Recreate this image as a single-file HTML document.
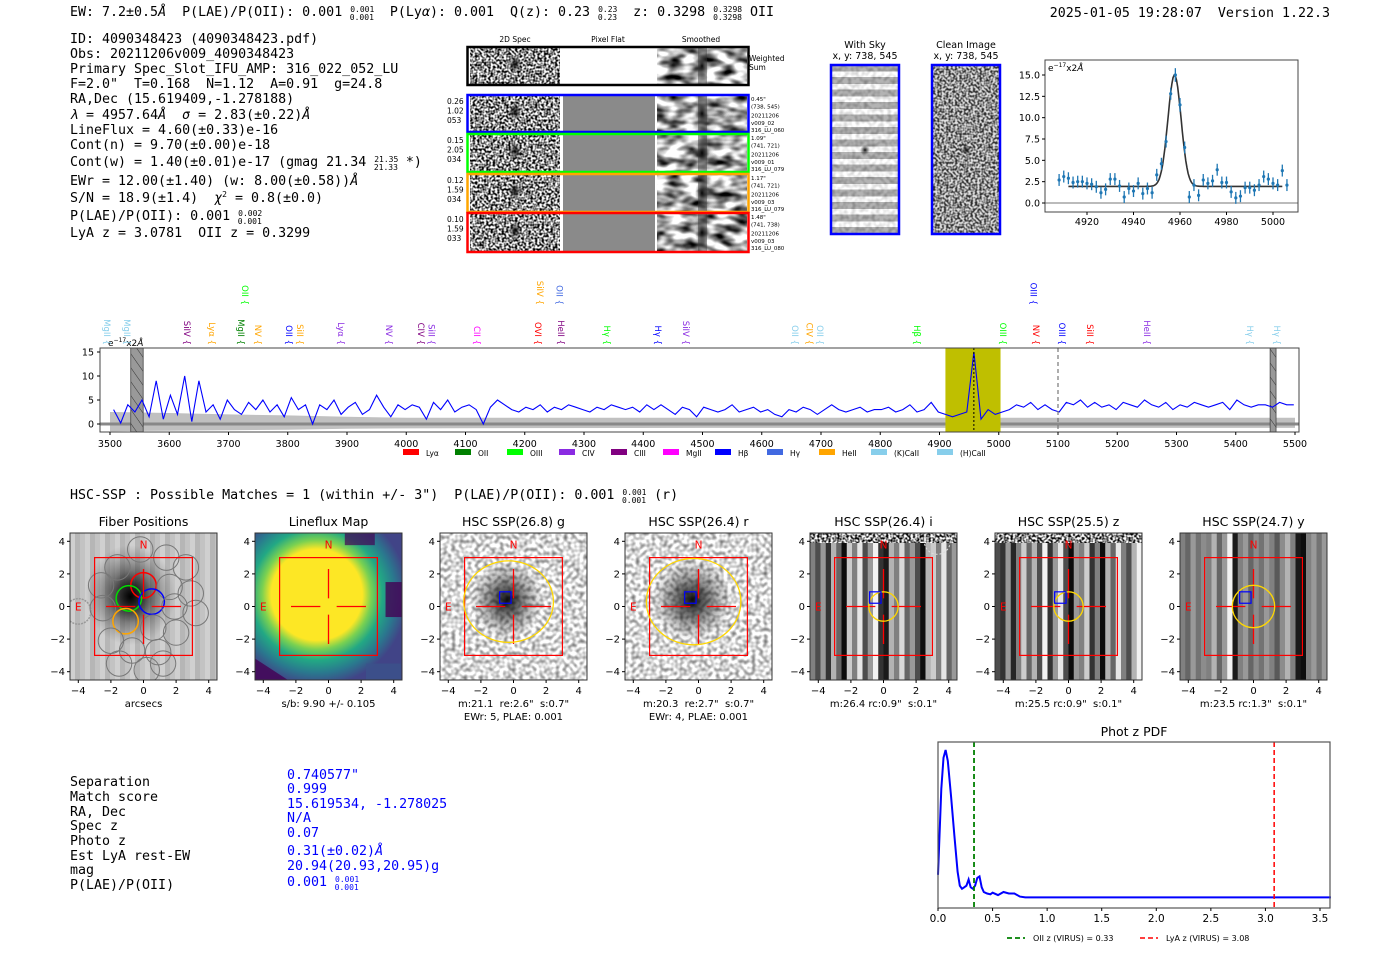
<!DOCTYPE html>
<html><head><meta charset="utf-8">
<style>
html,body{margin:0;padding:0;background:#fff;}
svg{display:block;}
text{white-space:pre;}
.mono{font-family:"DejaVu Sans Mono","Liberation Mono",monospace;}
.sans{font-family:"DejaVu Sans","Liberation Sans",sans-serif;}
</style></head>
<body>
<svg id="fig" width="1400" height="953" viewBox="0 0 1400 953" xmlns="http://www.w3.org/2000/svg" xml:space="preserve">
<defs>
 <filter id="noiseFine" x="0" y="0" width="100%" height="100%" color-interpolation-filters="sRGB">
  <feTurbulence type="fractalNoise" baseFrequency="0.45" numOctaves="1" seed="3"/>
  <feColorMatrix type="matrix" values="3 0 0 0 -0.95  3 0 0 0 -0.95  3 0 0 0 -0.95  0 0 0 0 1"/>
 </filter>
 <filter id="noiseSmooth" x="0" y="0" width="100%" height="100%" color-interpolation-filters="sRGB">
  <feTurbulence type="fractalNoise" baseFrequency="0.06 0.12" numOctaves="2" seed="7"/>
  <feColorMatrix type="matrix" values="2.2 0 0 0 -0.45  2.2 0 0 0 -0.45  2.2 0 0 0 -0.45  0 0 0 0 1"/>
 </filter>
 <filter id="noiseCut" x="0" y="0" width="100%" height="100%" color-interpolation-filters="sRGB">
  <feTurbulence type="fractalNoise" baseFrequency="0.25" numOctaves="1" seed="11"/>
  <feColorMatrix type="matrix" values="1.2 0 0 0 0.25  1.2 0 0 0 0.25  1.2 0 0 0 0.25  0 0 0 0 1"/>
 </filter>
 <radialGradient id="blob" cx="50%" cy="50%" r="50%">
  <stop offset="0" stop-color="#000" stop-opacity="0.95"/>
  <stop offset="0.5" stop-color="#222" stop-opacity="0.5"/>
  <stop offset="1" stop-color="#444" stop-opacity="0"/>
 </radialGradient>
 <radialGradient id="vir" cx="42%" cy="42%" r="62%">
  <stop offset="0" stop-color="#fde725"/>
  <stop offset="0.5" stop-color="#fde725"/>
  <stop offset="0.6" stop-color="#7ad151"/>
  <stop offset="0.72" stop-color="#22a884"/>
  <stop offset="0.86" stop-color="#2a788e"/>
  <stop offset="1" stop-color="#414487"/>
 </radialGradient>
 <pattern id="hatch" width="8" height="8" patternUnits="userSpaceOnUse" patternTransform="rotate(-35)">
  <rect width="8" height="8" fill="#999"/><line x1="0" y1="0" x2="0" y2="8" stroke="#333" stroke-width="1"/>
 </pattern>
 <pattern id="skystripes" width="12" height="12.5" patternUnits="userSpaceOnUse">
  <rect width="12" height="12.5" fill="#fff"/><rect y="2" width="12" height="7" fill="#8a8a8a"/>
 </pattern>
</defs>

<text class="mono" x="70" y="16" font-size="13.3">EW: 7.2±0.5<tspan font-style="italic">Å</tspan>  P(LAE)/P(OII): 0.001 <tspan font-size="8" dy="-4">0.001</tspan><tspan font-size="8" dx="-24.5" dy="8">0.001</tspan><tspan dy="-4">  P(Ly</tspan><tspan font-style="italic">α</tspan>): 0.001  Q(z): 0.23 <tspan font-size="8" dy="-4">0.23</tspan><tspan font-size="8" dx="-19.5" dy="8">0.23</tspan><tspan dy="-4">  z: 0.3298 </tspan><tspan font-size="8" dy="-4">0.3298</tspan><tspan font-size="8" dx="-29" dy="8">0.3298</tspan><tspan dy="-4"> OII</tspan></text>
<text class="mono" x="1330" y="17" font-size="13.3" text-anchor="end">2025-01-05 19:28:07  Version 1.22.3</text>

<g class="mono" font-size="13.3">
<text x="70" y="43">ID: 4090348423 (4090348423.pdf)</text>
<text x="70" y="58">Obs: 20211206v009_4090348423</text>
<text x="70" y="73">Primary Spec_Slot_IFU_AMP: 316_022_052_LU</text>
<text x="70" y="88">F=2.0"  T=0.168  N=1.12  A=0.91  g=24.8</text>
<text x="70" y="103">RA,Dec (15.619409,-1.278188)</text>
<text x="70" y="119"><tspan font-style="italic">λ</tspan> = 4957.64<tspan font-style="italic">Å</tspan>  <tspan font-style="italic">σ</tspan> = 2.83(±0.22)<tspan font-style="italic">Å</tspan></text>
<text x="70" y="134">LineFlux = 4.60(±0.33)e-16</text>
<text x="70" y="149">Cont(n) = 9.70(±0.00)e-18</text>
<text x="70" y="166">Cont(w) = 1.40(±0.01)e-17 (gmag 21.34 <tspan font-size="8" dy="-4">21.35</tspan><tspan font-size="8" dx="-24.5" dy="8">21.33</tspan><tspan dy="-4"> *)</tspan></text>
<text x="70" y="185">EWr = 12.00(±1.40) (w: 8.00(±0.58))<tspan font-style="italic">Å</tspan></text>
<text x="70" y="202">S/N = 18.9(±1.4)  <tspan font-style="italic">χ</tspan><tspan font-size="8" dy="-5">2</tspan><tspan dy="5"> = 0.8(±0.0)</tspan></text>
<text x="70" y="220">P(LAE)/P(OII): 0.001 <tspan font-size="8" dy="-4">0.002</tspan><tspan font-size="8" dx="-24.5" dy="8">0.001</tspan></text>
<text x="70" y="237">LyA z = 3.0781  OII z = 0.3299</text>
</g>

<g id="spec2d"></g>
<g id="cutouts-top"></g>
<g id="linefit"></g>
<g id="spectrum"></g>

<text class="mono" x="70" y="499" font-size="13.3">HSC-SSP : Possible Matches = 1 (within +/- 3")  P(LAE)/P(OII): 0.001 <tspan font-size="8" dy="-4">0.001</tspan><tspan font-size="8" dx="-24.5" dy="8">0.001</tspan><tspan dy="-4"> (r)</tspan></text>
<g id="panels"></g>

<g class="mono" font-size="13.3">
<text x="70" y="786">Separation</text><text x="70" y="801">Match score</text><text x="70" y="816">RA, Dec</text>
<text x="70" y="830">Spec z</text><text x="70" y="845">Photo z</text><text x="70" y="860">Est LyA rest-EW</text>
<text x="70" y="874">mag</text><text x="70" y="889">P(LAE)/P(OII)</text>
</g>
<g class="mono" font-size="13.3" fill="#0000ff">
<text x="287" y="779">0.740577"</text><text x="287" y="793">0.999</text><text x="287" y="808">15.619534, -1.278025</text>
<text x="287" y="822">N/A</text><text x="287" y="837">0.07</text><text x="287" y="855">0.31(±0.02)<tspan font-style="italic">Å</tspan></text>
<text x="287" y="870">20.94(20.93,20.95)g</text>
<text x="287" y="886">0.001 <tspan font-size="8" dy="-4">0.001</tspan><tspan font-size="8" dx="-24.5" dy="8">0.001</tspan></text>
</g>
<g id="photz"></g>
</svg>

<script>
// ---------- DATA ----------
const specStart = 3506;
const specStep = 12;
const specFlux = [
 3,0.2,4,2.5,5,1.5,9,1,6,2,10,0.5,9,2.5,4,1,5,3,
 2,4.5,3,5,2.5,4,1.5,5.5,3,4,0,4,3,5,2,3.5,4.5,2,
 3,6,3.5,1.5,4,3,4,3.5,1,4.5,3,5,2.5,3.5,4,3,0,3.5,
 5,4,3,2.5,3.5,3,4,2.5,3.5,3,4,3.5,3,2.5,3.5,3,4,3.5,
 3,3.5,2.5,4,3,4,3,2,3.5,3,1.5,3.5,3,2.5,3,4,2.5,3,
 3.5,2.5,3,2,1.5,3,2.5,3.5,3,2,3,4,3,2.5,3,3.5,2.5,3,
 3,3.5,2.5,3,4,2.5,3,4.5,2.5,2,1.5,2,2.5,15,1,3,2,2.5,
 3,4,3.5,4.5,3,4,3,2.5,4.5,4,5,3.5,4.5,3.5,4,3,4.5,4,
 3.5,5,4,3.5,4.5,3,4,3.5,4.5,4,3.5,4,4.5,3,5,4,3.5,4,
 4,3.5,4.5,4,4
];
const errWave = [3500,3600,3700,3800,3900,4000,4500,5000,5500];
const errUp = [2.5,2.3,2.0,1.8,1.5,1.3,1.3,1.3,1.3];
const errLo = [-1.5,-1.4,-1.3,-1.2,-1.0,-0.9,-0.8,-0.8,-0.8];
const specTicks = [3500,3600,3700,3800,3900,4000,4100,4200,4300,4400,4500,4600,4700,4800,4900,5000,5100,5200,5300,5400,5500];
const specYTicks = [0,5,10,15];
const lineNames = ["MgII","MgII","SiIV","Lyα","MgII","OII","NV","OII","SiII","Lyα","NV","CIV","SiII","CII","OVI","SiIV","OII","HeII","Hγ","Hγ","SiIV","OII","CIV","OII","Hβ","OIII","NV","OIII","OIII","SiII","HeII","Hγ","Hγ"];
const lineWaves = [3495,3529,3630,3672,3721,3728,3750,3802,3821,3890,3971,4025,4043,4119,4222,4226,4259,4261,4339,4425,4472,4656,4681,4698,4862,5007,5063,5059,5107,5154,5250,5424,5470];
const lineColors = ["#87ceeb","#87ceeb","#800080","#ffa500","#008000","#00ff00","#ffa500","#0000ff","#ffa500","#8a2be2","#8a2be2","#800080","#8a2be2","#ff00ff","#ff0000","#ffa500","#4169e1","#800080","#00ff00","#0000ff","#8a2be2","#87ceeb","#ffa500","#87ceeb","#00ff00","#00ff00","#ff0000","#0000ff","#0000ff","#ff0000","#8a2be2","#87ceeb","#87ceeb"];
const lineTier = [0,0,0,0,0,1,0,0,0,0,0,0,0,0,0,1,1,0,0,0,0,0,0,0,0,0,0,1,0,0,0,0,0];
const legendNames = ["Lyα","OII","OIII","CIV","CIII","MgII","Hβ","Hγ","HeII","(K)CaII","(H)CaII"];
const legendColors = ["#ff0000","#008000","#00ff00","#8a2be2","#800080","#ff00ff","#0000ff","#4169e1","#ffa500","#87ceeb","#87ceeb"];
const fitBand = [4910,5003];
const peakWave = 4958;
const refWave = 5100;
const maskBands = [[3535,3556],[5458,5468]];

const fitWaves = [4908,4910,4912,4914,4916,4918,4920,4922,4924,4926,4928,4930,4932,4934,4936,4938,4940,4942,4944,4946,4948,4950,4952,4954,4956,4958,4960,4962,4964,4966,4968,4970,4972,4974,4976,4978,4980,4982,4984,4986,4988,4990,4992,4994,4996,4998,5000,5002,5004,5006];
const fitFlux = [2.7,3.1,2.9,2.4,2.5,2.5,2.3,2.2,1.9,1.2,1.6,2.8,2.8,2.0,0.7,1.7,1.4,2.3,1.1,1.7,1.2,3.3,4.6,7.2,12.8,15.0,11.5,6.5,0.7,2.1,0.9,2.7,2.3,2.6,3.9,2.4,2.4,1.3,0.6,0.8,1.8,1.8,1.5,2.1,3.1,2.8,2.3,2.1,3.8,2.1];
const fitErr = [0.7,0.7,0.7,0.7,0.7,0.7,0.7,0.7,0.7,0.7,0.7,0.7,0.7,0.7,0.7,0.7,0.7,0.7,0.7,0.7,0.7,0.7,0.7,0.7,0.7,0.8,0.8,0.7,0.7,0.7,0.7,0.7,0.7,0.7,0.7,0.7,0.7,0.7,0.7,0.7,0.7,0.7,0.7,0.7,0.7,0.7,0.7,0.7,0.7,0.7];
const fitParams = [1.95, 13.05, 4957.64, 2.83];
const fitRange = [4912, 5004];
const fitXTicks = [4920,4940,4960,4980,5000];
const fitYTicks = [0,2.5,5,7.5,10,12.5,15];

const pzZ = [0,0.03,0.05,0.07,0.09,0.12,0.15,0.18,0.2,0.22,0.24,0.26,0.28,0.3,0.32,0.34,0.36,0.38,0.4,0.42,0.45,0.48,0.5,0.55,0.6,0.65,0.7,0.75,0.8,1.0,1.5,2.0,2.5,3.0,3.5,3.6];
const pzP = [0.2,0.75,0.95,1.0,0.93,0.7,0.45,0.22,0.13,0.11,0.12,0.13,0.17,0.12,0.11,0.13,0.18,0.19,0.12,0.09,0.08,0.075,0.085,0.07,0.09,0.08,0.08,0.06,0.055,0.055,0.055,0.055,0.055,0.055,0.055,0.055];
const pzTicks = [0,0.5,1,1.5,2,2.5,3,3.5];
const pzOII = 0.33;
const pzLyA = 3.08;

const panelTitles = ["Fiber Positions","Lineflux Map","HSC SSP(26.8) g","HSC SSP(26.4) r","HSC SSP(26.4) i","HSC SSP(25.5) z","HSC SSP(24.7) y"];
const panelLab1 = ["arcsecs","s/b: 9.90 +/- 0.105","m:21.1  re:2.6\"  s:0.7\"","m:20.3  re:2.7\"  s:0.7\"","m:26.4 rc:0.9\"  s:0.1\"","m:25.5 rc:0.9\"  s:0.1\"","m:23.5 rc:1.3\"  s:0.1\""];
const panelLab2 = ["","","EWr: 5, PLAE: 0.001","EWr: 4, PLAE: 0.001","","",""];
const ellX = [null,null,-0.3,-0.3,0,0,0];
const ellY = [null,null,0.3,0.3,0,0,0];
const ellRX = [null,null,2.75,2.9,0.9,0.9,1.3];
const ellRY = [null,null,2.5,2.65,0.9,0.9,1.3];
const panelTicks = [-4,-2,0,2,4];
const fiberX = [-0.2,1.4,2.6,-1.6,0.0,1.6,2.9,-2.6,-0.9,0.5,1.9,3.2,-4.0,-2.5,-1.1,0.6,2.0,-2.0,-0.7,0.9,-1.5,0.2,1.2];
const fiberY = [3.5,3.0,2.4,2.4,1.3,1.2,0.8,1.3,0.5,0.3,0.0,-0.4,-0.3,-0.1,-0.9,-1.3,-1.6,-2.1,-2.7,-2.8,-3.5,-3.9,-3.5];
const fiberColor = ["#777","#777","#777","#777","#ff0000","#777","#777","#777","#00dd00","#0000ff","#777","#777","#999","#777","#ffa500","#777","#777","#777","#777","#777","#777","#777","#777"];

// ---------- HELPERS ----------
const NS = "http://www.w3.org/2000/svg";
function mk(parent, tag, attrs, text){
  const e = document.createElementNS(NS, tag);
  for (const k in attrs) e.setAttribute(k, attrs[k]);
  if (text !== undefined) e.textContent = text;
  parent.appendChild(e);
  return e;
}
const F = '"DejaVu Sans","Liberation Sans",sans-serif';

// ---------- 2D SPEC ----------
(function(){
  const g = document.getElementById('spec2d');
  const t1 = mk(g,'text',{x:515,y:42,'font-family':F,'font-size':7.5,'text-anchor':'middle'},'2D Spec');
   
  const t2 = mk(g,'text',{x:608,y:42,'font-family':F,'font-size':7.5,'text-anchor':'middle'},'Pixel Flat');
   
  const t3 = mk(g,'text',{x:701,y:42,'font-family':F,'font-size':7.5,'text-anchor':'middle'},'Smoothed');
   
  const rows = [
    {y:47,h:38,c:'#000',flat:'#fff',l:null,r:['Weighted','Sum']},
    {y:95,h:37,c:'#0000ff',flat:'#8a8a8a',l:['0.26','1.02','053'],r:['0.45"','(738, 545)','20211206','v009_02','316_LU_060']},
    {y:134,h:38,c:'#00ff00',flat:'#8a8a8a',l:['0.15','2.05','034'],r:['1.09"','(741, 721)','20211206','v009_01','316_LU_079']},
    {y:174,h:38,c:'#ffa500',flat:'#8a8a8a',l:['0.12','1.59','034'],r:['1.17"','(741, 721)','20211206','v009_03','316_LU_079']},
    {y:213,h:39,c:'#ff0000',flat:'#8a8a8a',l:['0.10','1.59','033'],r:['1.48"','(741, 738)','20211206','v009_03','316_LU_080']}
  ];
  rows.forEach((r,i)=>{
    const rg = mk(g,'g',{});
     
    mk(rg,'rect',{x:470,y:r.y+1,width:90,height:r.h-2,fill:'#9a9a9a',filter:'url(#noiseFine)'});
    mk(rg,'ellipse',{cx:515,cy:r.y+r.h*0.45,rx:7,ry:9,fill:'url(#blob)'});
    mk(rg,'rect',{x:563,y:r.y+1,width:92,height:r.h-2,fill:r.flat});
    mk(rg,'rect',{x:657,y:r.y+1,width:90,height:r.h-2,fill:'#bdbdbd',filter:'url(#noiseSmooth)'});
    mk(rg,'rect',{x:698,y:r.y+1,width:9,height:r.h-2,fill:'#333',opacity:0.45});
    mk(rg,'ellipse',{cx:702,cy:r.y+r.h*0.5,rx:7,ry:12,fill:'url(#blob)'});
    mk(rg,'rect',{x:467.5,y:r.y,width:281,height:r.h,fill:'none',stroke:r.c,'stroke-width':2.5});
    if (r.l) r.l.forEach((s,k)=>mk(rg,'text',{x:447,y:r.y+9+k*9.5,'font-family':F,'font-size':7.5},s));
    if (r.r) {
      if (i===0) r.r.forEach((s,k)=>mk(rg,'text',{x:749,y:r.y+14+k*9,'font-family':F,'font-size':7.5},s));
      else r.r.forEach((s,k)=>mk(rg,'text',{x:751,y:r.y+6+k*7.3+(k>1?2:0),'font-family':F,'font-size':5.5},s));
    }
  });
})();

// ---------- SKY / CLEAN CUTOUTS ----------
(function(){
  const g = document.getElementById('cutouts-top');
  [[865,'With Sky'],[966,'Clean Image']].forEach((d,i)=>{
    const cg = mk(g,'g',{});
     
    mk(cg,'text',{x:d[0],y:48,'font-family':F,'font-size':9.5,'text-anchor':'middle'},d[1]);
    mk(cg,'text',{x:d[0],y:59,'font-family':F,'font-size':9.5,'text-anchor':'middle'},'x, y: 738, 545');
    const x0 = d[0]-34;
    if (i===0) {
      mk(cg,'rect',{x:x0,y:65,width:68,height:169,fill:'url(#skystripes)'});
      mk(cg,'rect',{x:x0,y:65,width:68,height:169,fill:'#fff',filter:'url(#noiseCut)',opacity:0.35});
    } else {
      mk(cg,'rect',{x:x0,y:65,width:68,height:169,fill:'#9a9a9a',filter:'url(#noiseFine)'});
      mk(cg,'rect',{x:x0,y:65,width:68,height:169,fill:'#999',opacity:0.3});
    }
    mk(cg,'ellipse',{cx:d[0],cy:150,rx:5,ry:5,fill:'url(#blob)'});
    mk(cg,'rect',{x:x0,y:65,width:68,height:169,fill:'none',stroke:'#0000ff','stroke-width':2.5});
  });
})();

// ---------- LINE FIT ----------
(function(){
  const g = document.getElementById('linefit');
  const L=1045,R=1298,T=60,B=212;
  const X = w => 1087 + (w-4920)*(1273-1087)/80;
  const Y = v => 203 - v*(203-75)/15;
  mk(g,'line',{x1:L,x2:R,y1:Y(0),y2:Y(0),stroke:'#777','stroke-width':1});
  let d='';
  for (let w=fitRange[0]; w<=fitRange[1]; w+=0.5){
    const v = fitParams[0] + fitParams[1]*Math.exp(-Math.pow(w-fitParams[2],2)/(2*fitParams[3]*fitParams[3]));
    d += (d?'L':'M')+X(w).toFixed(1)+','+Y(v).toFixed(1);
  }
  const m = mk(g,'path',{d:d,fill:'none',stroke:'#333','stroke-width':1.6});
   
  fitWaves.forEach((w,i)=>{
    const pg = mk(g,'g',{});
     
    mk(pg,'line',{x1:X(w),x2:X(w),y1:Y(fitFlux[i]-fitErr[i]),y2:Y(fitFlux[i]+fitErr[i]),stroke:'#1f77b4','stroke-width':1.3});
    mk(pg,'circle',{cx:X(w),cy:Y(fitFlux[i]),r:1.6,fill:'#1f77b4'});
  });
  mk(g,'rect',{x:L,y:T,width:R-L,height:B-T,fill:'none',stroke:'#444','stroke-width':1});
  fitXTicks.forEach(t=>{
    mk(g,'line',{x1:X(t),x2:X(t),y1:B,y2:B+3,stroke:'#000'});
    const tx = mk(g,'text',{x:X(t),y:B+13,'font-family':F,'font-size':9.5,'text-anchor':'middle'},String(t));
     
  });
  fitYTicks.forEach(t=>{
    mk(g,'line',{x1:L-3,x2:L,y1:Y(t),y2:Y(t),stroke:'#000'});
    const tx = mk(g,'text',{x:L-5,y:Y(t)+3.5,'font-family':F,'font-size':9.5,'text-anchor':'end'},t.toFixed(1));
     
  });
  const u = mk(g,'text',{x:L+3,y:T+11,'font-family':F,'font-size':9},'');
  u.innerHTML = 'e<tspan font-size="6" dy="-4">−17</tspan><tspan dy="4">x2<tspan font-style="italic">Å</tspan></tspan>';
   
})();

// ---------- FULL SPECTRUM ----------
(function(){
  const g = document.getElementById('spectrum');
  const L=100,R=1299,T=348,B=432;
  const X = w => 110 + (w-3500)*(1295-110)/2000;
  const Y = v => 424 - v*(424-352)/15;
  let d='M'+X(errWave[0])+','+Y(errUp[0]);
  errWave.forEach((w,i)=>{ d+='L'+X(w)+','+Y(errUp[i]); });
  for (let i=errWave.length-1;i>=0;i--) d+='L'+X(errWave[i])+','+Y(errLo[i]);
  const eb = mk(g,'path',{d:d+'Z',fill:'#c0c0c0'});
   
  mk(g,'line',{x1:L,x2:R,y1:Y(0),y2:Y(0),stroke:'#888','stroke-width':3});
  const fb = mk(g,'rect',{x:X(fitBand[0]),y:T,width:X(fitBand[1])-X(fitBand[0]),height:B-T,fill:'#bfbf00'});
   
  maskBands.forEach(b=>{
    const mb = mk(g,'rect',{x:X(b[0]),y:T,width:X(b[1])-X(b[0]),height:B-T,fill:'url(#hatch)',stroke:'#444','stroke-width':0.8});
     
  });
  let p='';
  specFlux.forEach((v,i)=>{ const w=specStart+specStep*i; p+=(p?'L':'M')+X(w).toFixed(1)+','+Y(v).toFixed(1); });
  const sl = mk(g,'path',{d:p,fill:'none',stroke:'#0000ff','stroke-width':1.1});
   
  const pk = mk(g,'line',{x1:X(peakWave),x2:X(peakWave),y1:T,y2:B,stroke:'#000','stroke-width':1,'stroke-dasharray':'2,2'});
   
  const rf = mk(g,'line',{x1:X(refWave),x2:X(refWave),y1:T,y2:B,stroke:'#777','stroke-width':1.2,'stroke-dasharray':'4,3'});
   
  mk(g,'rect',{x:L,y:T,width:R-L,height:B-T,fill:'none',stroke:'#444','stroke-width':1});
  specTicks.forEach(t=>{
    mk(g,'line',{x1:X(t),x2:X(t),y1:B,y2:B+3,stroke:'#000'});
    const tx = mk(g,'text',{x:X(t),y:B+15,'font-family':F,'font-size':9.5,'text-anchor':'middle'},String(t));
     
  });
  specYTicks.forEach(t=>{
    mk(g,'line',{x1:L-3,x2:L,y1:Y(t),y2:Y(t),stroke:'#000'});
    const tx = mk(g,'text',{x:L-6,y:Y(t)+3.5,'font-family':F,'font-size':9.5,'text-anchor':'end'},String(t));
     
  });
  const u = mk(g,'text',{x:108,y:346,'font-family':F,'font-size':9},'');
  u.innerHTML = 'e<tspan font-size="6" dy="-4">−17</tspan><tspan dy="4">x2<tspan font-style="italic">Å</tspan></tspan>';
   
  lineNames.forEach((n,i)=>{
    const x = X(lineWaves[i]);
    const yEnd = lineTier[i] ? 305 : 345;
    const lt = mk(g,'text',{x:0,y:0,'font-family':F,'font-size':8.5,fill:lineColors[i],transform:'translate('+(x-3)+','+(yEnd)+') rotate(90)','text-anchor':'end'},n+' {');
     
  });
  let lx = 403;
  legendNames.forEach((n,i)=>{
    const lg = mk(g,'g',{});
     
    mk(lg,'rect',{x:lx,y:449,width:16,height:6,fill:legendColors[i]});
    mk(lg,'text',{x:lx+23,y:456,'font-family':F,'font-size':7.5},n);
    lx += (n.length>5?66:52);
  });
})();

// ---------- IMAGING PANELS ----------
(function(){
  const g = document.getElementById('panels');
  const stripeVals = [
    [0.5,0.3,0.6,0.2,0.7,0.4,0.05,0.8,0.5,0.9,0.3,0.6,0.95,0.2,0.1,0.7,0.5,0.85,0.4,0.6,0.3,0.05,0.7,0.8,0.5,0.9,0.4,0.6],
    [0.3,0.2,0.6,0.15,0.5,0.8,0.4,0.7,0.3,0.95,0.2,0.6,0.9,0.3,0.05,0.6,0.5,0.8,0.2,0.5,0.05,0.7,0.4,0.9,0.5,0.3,0.7,0.95],
    [0.5,0.4,0.6,0.45,0.55,0.5,0.7,0.4,0.6,0.95,0.1,0.5,0.6,0.4,0.55,0.45,0.6,0.5,0.35,0.55,0.7,0.5,0.1,0.05,0.5,0.6,0.45,0.6]
  ];
  for (let k=0;k<7;k++){
    const L = 70+185*k, W=147, T=533, H=147;
    const cx = L+73.5, cy = 606.5, u = 16.3;
    const PX = v => cx + v*u, PY = v => cy - v*u;
    const pg = mk(g,'g',{});
    
    
    const clipId='clip'+k;
    const cp = mk(pg,'clipPath',{id:clipId}); mk(cp,'rect',{x:L,y:T,width:W,height:H});
    const img = mk(pg,'g',{'clip-path':'url(#'+clipId+')'});
    if (k===0){
      mk(img,'rect',{x:L,y:T,width:W,height:H,fill:'#aaa'});
      for (let s=0;s<30;s++) mk(img,'rect',{x:L+s*5,y:T,width:5,height:H,fill:'#fff',opacity:(s%3===0?0.45:(s%3===1?0.15:0.3))});
      mk(img,'ellipse',{cx:PX(-0.8),cy:PY(0.7),rx:45,ry:50,fill:'url(#blob)'});
      mk(img,'ellipse',{cx:PX(-0.8),cy:PY(0.6),rx:22,ry:26,fill:'url(#blob)'});
      fiberX.forEach((fx,i)=>{
        const c = mk(img,'circle',{cx:PX(fx),cy:PY(fiberY[i]),r:0.78*u,fill:'none',stroke:fiberColor[i],'stroke-width':fiberColor[i]==='#777'?1:1.5});
        if (i===12) c.setAttribute('stroke-dasharray','2,1');
      });
    } else if (k===1){
      mk(img,'rect',{x:L,y:T,width:W,height:H,fill:'#2a788e'});
      mk(img,'rect',{x:L,y:T,width:W,height:H,fill:'url(#vir)'});
      mk(img,'polygon',{points:[PX(-4.5),PY(-3.2),PX(-2.5),PY(-4.5),PX(-4.5),PY(-4.5)].join(' '),fill:'#440154',opacity:0.8});
      mk(img,'rect',{x:PX(3.5),y:PY(1.5),width:20,height:35,fill:'#440154',opacity:0.8});
      mk(img,'rect',{x:PX(1),y:PY(4.5),width:30,height:12,fill:'#440154',opacity:0.7});
      mk(img,'rect',{x:PX(2.3),y:PY(-3.5),width:35,height:20,fill:'#3b528b',opacity:0.8});
    } else if (k===2 || k===3){
      mk(img,'rect',{x:L,y:T,width:W,height:H,fill:'#e2e2e2',filter:'url(#noiseCut)'});
      mk(img,'ellipse',{cx:PX(-0.4),cy:PY(0.4),rx:(k===2?36:40),ry:(k===2?38:40),fill:'url(#blob)'});
    } else {
      const sv = stripeVals[k-4];
      const sw = W/sv.length;
      sv.forEach((v,i)=>{ const c=Math.round(v*255); mk(img,'rect',{x:L+i*sw,y:T,width:sw+0.5,height:H,fill:'rgb('+c+','+c+','+c+')'}); });
      if (k<6) { mk(img,'rect',{x:L,y:T,width:W,height:10,fill:'#999',filter:'url(#noiseFine)'}); }
      if (k===4) mk(img,'circle',{cx:PX(3.3),cy:PY(4),r:13,fill:'none',stroke:'#ddd','stroke-dasharray':'2,2'});
    }
    mk(pg,'rect',{x:PX(-3),y:PY(3),width:6*u,height:6*u,fill:'none',stroke:'#ff0000','stroke-width':1.2});
    mk(pg,'line',{x1:PX(-2.3),x2:PX(-0.5),y1:PY(0),y2:PY(0),stroke:'#ff0000','stroke-width':1.3});
    mk(pg,'line',{x1:PX(0.5),x2:PX(2.3),y1:PY(0),y2:PY(0),stroke:'#ff0000','stroke-width':1.3});
    mk(pg,'line',{x1:PX(0),x2:PX(0),y1:PY(2.3),y2:PY(0.5),stroke:'#ff0000','stroke-width':1.3});
    mk(pg,'line',{x1:PX(0),x2:PX(0),y1:PY(-0.5),y2:PY(-2.3),stroke:'#ff0000','stroke-width':1.3});
    mk(pg,'text',{x:PX(0),y:PY(3.8)+4,'font-family':F,'font-size':10.5,fill:'#ff0000','text-anchor':'middle'},'N');
    mk(pg,'text',{x:PX(-4),y:PY(0)+4,'font-family':F,'font-size':10.5,fill:'#ff0000','text-anchor':'middle'},'E');
    if (ellRX[k]!==null){
      const el = mk(pg,'ellipse',{cx:PX(ellX[k]),cy:PY(ellY[k]),rx:ellRX[k]*u,ry:ellRY[k]*u,fill:'none',stroke:'#ffd700','stroke-width':1.3});
       
      mk(pg,'rect',{x:PX(-0.85),y:PY(0.9),width:0.7*u,height:0.7*u,fill:'none',stroke:'#0000ff','stroke-width':1.2});
    }
    mk(pg,'rect',{x:L,y:T,width:W,height:H,fill:'none',stroke:'#333','stroke-width':1});
    const tt = mk(pg,'text',{x:cx,y:526,'font-family':F,'font-size':12.5,'text-anchor':'middle'},panelTitles[k]);
     
    panelTicks.forEach(t=>{
      mk(pg,'line',{x1:PX(t),x2:PX(t),y1:T+H,y2:T+H+3,stroke:'#000'});
      mk(pg,'text',{x:PX(t),y:T+H+14,'font-family':F,'font-size':10,'text-anchor':'middle'},t<0?'−'+(-t):String(t));
      mk(pg,'line',{x1:L-3,x2:L,y1:PY(t),y2:PY(t),stroke:'#000'});
      mk(pg,'text',{x:L-5,y:PY(t)+3.5,'font-family':F,'font-size':10,'text-anchor':'end'},t<0?'−'+(-t):String(t));
    });
    mk(pg,'text',{x:cx,y:707,'font-family':F,'font-size':10,'text-anchor':'middle'},panelLab1[k]);
    if (panelLab2[k]) mk(pg,'text',{x:cx,y:720,'font-family':F,'font-size':10,'text-anchor':'middle'},panelLab2[k]);
  }
})();

// ---------- PHOT Z PDF ----------
(function(){
  const g = document.getElementById('photz');
  const L=938,R=1330,T=742,B=908;
  const X = z => 938 + z*(1320-938)/3.5;
  const Y = v => 906 - v*(906-750)/1.0;
  mk(g,'text',{x:1134,y:736,'font-family':F,'font-size':12.5,'text-anchor':'middle'},'Phot z PDF');
  let d='';
  pzZ.forEach((z,i)=>{ d+=(d?'L':'M')+X(z).toFixed(1)+','+Y(pzP[i]).toFixed(1); });
  const pl = mk(g,'path',{d:d,fill:'none',stroke:'#0000ff','stroke-width':2});
   
  const o = mk(g,'line',{x1:X(pzOII),x2:X(pzOII),y1:T,y2:B,stroke:'#008000','stroke-width':1.8,'stroke-dasharray':'5,3'});
   
  const l = mk(g,'line',{x1:X(pzLyA),x2:X(pzLyA),y1:T,y2:B,stroke:'#ff0000','stroke-width':1.5,'stroke-dasharray':'5,3'});
   
  mk(g,'rect',{x:L,y:T,width:R-L,height:B-T,fill:'none',stroke:'#555','stroke-width':1.2});
  pzTicks.forEach(t=>{
    mk(g,'line',{x1:X(t),x2:X(t),y1:B,y2:B+3,stroke:'#000'});
    const tx = mk(g,'text',{x:X(t),y:B+14,'font-family':F,'font-size':10.5,'text-anchor':'middle'},t.toFixed(1));
     
  });
  const lg1 = mk(g,'g',{});
   
  mk(lg1,'line',{x1:1007,x2:1025,y1:938,y2:938,stroke:'#008000','stroke-width':1.8,'stroke-dasharray':'5,3'});
  mk(lg1,'text',{x:1033,y:941,'font-family':F,'font-size':8},'OII z (VIRUS) = 0.33');
  const lg2 = mk(g,'g',{});
   
  mk(lg2,'line',{x1:1140,x2:1158,y1:938,y2:938,stroke:'#ff0000','stroke-width':1.5,'stroke-dasharray':'5,3'});
  mk(lg2,'text',{x:1166,y:941,'font-family':F,'font-size':8},'LyA z (VIRUS) = 3.08');
})();
</script>
</body></html>
